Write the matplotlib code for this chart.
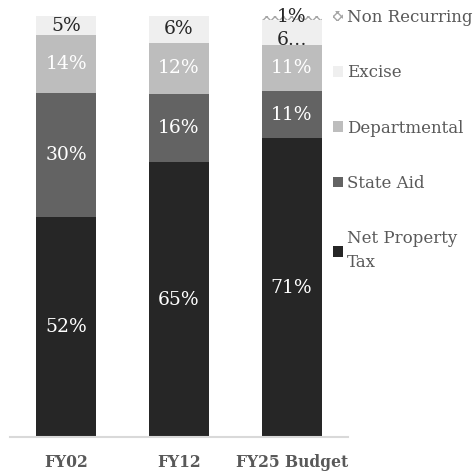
import matplotlib.pyplot as plt
import numpy as np

plt.rcParams['font.family'] = ['DejaVu Serif']

years = ["FY02", "FY12", "FY25 Budget"]
series = ["Net Property Tax", "State Aid", "Departmental", "Excise", "Non Recurring"]
net_property = [52.2, 65.3, 71.0]
state_aid = [29.6, 16.2, 11.2]
departmental = [13.6, 12.1, 10.9]
excise = [4.6, 6.4, 5.9]
non_recurring = [0.0, 0.0, 1.0]

colors = ["#262626", "#636363", "#bdbdbd", "#efefef", "white"]
text_colors = ["white", "white", "white", "#262626", "#262626"]
legend_names = ["Net Property\nTax", "State Aid", "Departmental", "Excise", "Non Recurring"]

fig = plt.figure(figsize=(4.74, 4.75), dpi=100)
ax = fig.add_axes([10 / 474, 38 / 475, 338 / 474, 421 / 475])

x = np.arange(len(years))
width = 0.53
bottom = np.zeros(len(years))
handles = []
for i, vals in enumerate([net_property, state_aid, departmental, excise, non_recurring]):
    vals = np.array(vals)
    if series[i] == "Non Recurring":
        b = ax.bar(x, vals, width, bottom=bottom, color="white", edgecolor="#a6a6a6",
                   hatch="xxxx", linewidth=0)
    else:
        b = ax.bar(x, vals, width, bottom=bottom, color=colors[i], edgecolor="none")
    handles.append(b)
    for j, v in enumerate(vals):
        if v <= 0:
            continue
        label = "%.0f%%" % v
        y = bottom[j] + v / 2
        if series[i] == "Excise" and j == 2:
            label = "6\u2026"
            y = bottom[j] + v / 2 - 1.8
        if series[i] == "Non Recurring":
            y = bottom[j] + v / 2 + 0.2
        ax.text(x[j], y, label, ha="center", va="center", color=text_colors[i],
                fontsize=13.5, clip_on=False, zorder=5)
    bottom += vals

ax.set_xlim(-0.5, 2.5)
ax.set_ylim(0, 100)
ax.set_yticks([])
ax.set_xticks(x)
ax.set_xticklabels(years, fontweight="bold", fontsize=11.2, color="#595959")
ax.tick_params(axis="x", length=0, pad=12)
for s in ["top", "left", "right"]:
    ax.spines[s].set_visible(False)
ax.spines["bottom"].set_color("#d9d9d9")
ax.spines["bottom"].set_linewidth(1.5)

leg = fig.legend(handles[::-1], legend_names[::-1], loc="upper left",
                 bbox_to_anchor=(333 / 474, 1 - 9 / 475), frameon=False,
                 fontsize=12, labelcolor="#595959", handlelength=0.6,
                 handleheight=0.6, handletextpad=0.25, labelspacing=2.3,
                 borderaxespad=0, borderpad=0)
for t in leg.get_texts():
    t.set_linespacing(1.5)

fig.savefig("out.png", dpi=100)
